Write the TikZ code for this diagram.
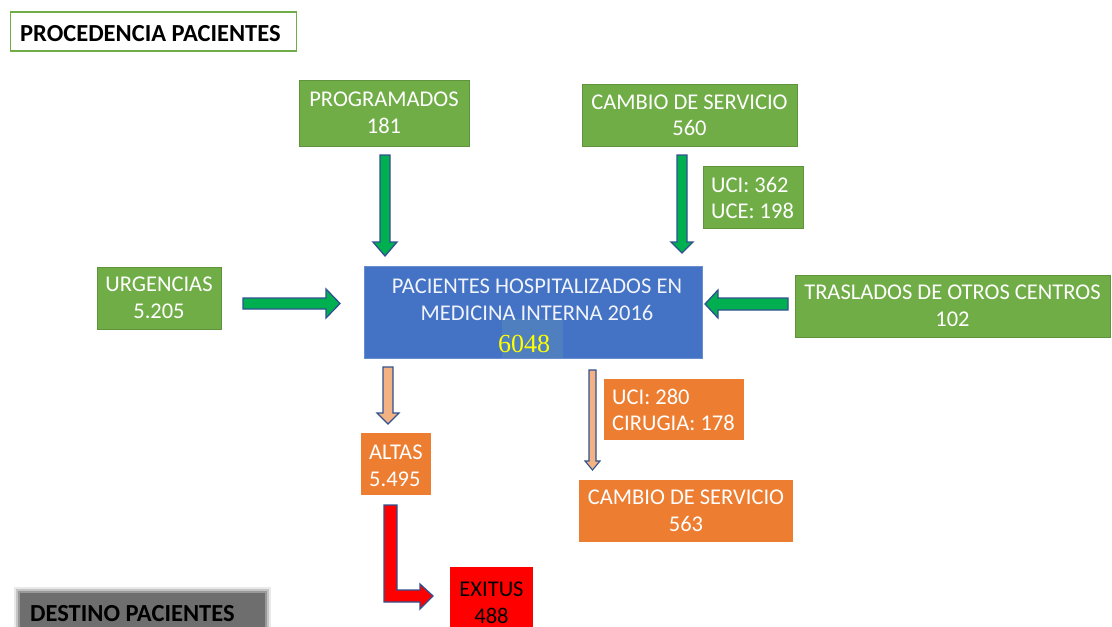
\documentclass[tikz,border=0pt]{standalone}
\usepackage{fontspec}
\setmainfont{Carlito}
\newfontfamily\numfont{Liberation Serif}
\definecolor{gfill}{HTML}{70AD47}
\definecolor{ofill}{HTML}{ED7D31}
\definecolor{bfill}{HTML}{4472C4}
\definecolor{binner}{HTML}{4F7FBE}
\definecolor{arrgreen}{HTML}{00B050}
\definecolor{arredge}{HTML}{2F528F}
\definecolor{arrorange}{HTML}{F4B183}
\definecolor{numyellow}{HTML}{FFFF00}
\definecolor{greybox}{HTML}{6E6E6E}
\tikzset{
  box/.style={inner sep=0pt, align=center, text=white, font=\fontsize{22.5}{26.5}\selectfont},
  gbox/.style={box, fill=gfill, draw=gfill!85!black, line width=0.4pt},
  obox/.style={box, fill=ofill},
  lbl/.style={inner sep=0pt, align=left, text=white, font=\fontsize{22.5}{26.5}\selectfont},
  garrow/.style={fill=arrgreen, draw=arredge, line width=1.3pt, line join=miter},
  oarrow/.style={fill=arrorange, draw=arredge, line width=1.1pt, line join=miter},
  rarrow/.style={fill=red, draw=arredge, line width=1.3pt, line join=miter},
}
\begin{document}
\begin{tikzpicture}[x=1pt,y=-1pt]
\useasboundingbox (0,0) rectangle (1112,627);
% title
\node[draw=gfill, line width=1.5pt, minimum width=286pt, minimum height=39pt, inner sep=0pt] (title) at (153.5,31.5) {};
\node[anchor=west, inner sep=0pt, font=\fontsize{24.5}{28}\selectfont\bfseries] (titletext) at (20,34) {PROCEDENCIA PACIENTES};
% source boxes
\node[gbox, minimum width=170pt, minimum height=66pt] (prog) at (384,113) {PROGRAMADOS\\181};
\node[gbox, minimum width=215pt, minimum height=62pt] (camb1) at (689.5,115.5) {CAMBIO DE SERVICIO\\560};
\node[gbox, minimum width=100pt, minimum height=62pt] (uce) at (753,197) {};
\node[lbl, anchor=west] (ucetext) at (711,198) {UCI: 362\\UCE: 198};
\node[gbox, minimum width=124pt, minimum height=62pt] (urg) at (159,298) {URGENCIAS\\5.205};
\node[gbox, minimum width=315pt, minimum height=62pt] (trasl) at (952.5,306) {TRASLADOS DE OTROS CENTROS\\102};
% central box
\node[box, fill=bfill, draw=bfill!80!white, line width=0.6pt, minimum width=338pt, minimum height=92pt] (central) at (533.5,312.5) {};
\node[fill=binner, minimum width=61pt, minimum height=39pt, inner sep=0pt] (inner) at (532.5,338.5) {};
\node[lbl, align=center, text=white!92!bfill] (centraltext) at (537,300) {PACIENTES HOSPITALIZADOS EN\\MEDICINA INTERNA 2016};
\node[inner sep=0pt, text=numyellow, font=\numfont\fontsize{26}{28}\selectfont] (num) at (524,344) {6048};
% destination boxes
\node[obox, minimum width=70pt, minimum height=62pt] (altas) at (396,464) {};
\node[lbl, anchor=west] (altastext) at (369,466) {ALTAS\\5.495};
\node[obox, minimum width=140pt, minimum height=61pt] (uci2) at (674,409.5) {};
\node[lbl, anchor=west] (uci2text) at (612,410) {UCI: 280\\CIRUGIA: 178};
\node[obox, minimum width=214pt, minimum height=62pt] (camb2) at (686,511) {CAMBIO DE SERVICIO\\563};
\node[box, fill=red, minimum width=83pt, minimum height=62pt] (exitus) at (491.5,598) {};
\node[box, text=black] (exitustext) at (491.5,603) {EXITUS\\488};
% destino (blurred grey label)
\fill[greybox, opacity=0.15] (14,587) rectangle (271,640);
\fill[greybox, opacity=0.3] (16,589) rectangle (269,640);
\fill[greybox, opacity=0.5] (18,591) rectangle (267,640);
\fill[greybox] (20,593) rectangle (265,640);
\node[anchor=west, inner sep=0pt, text=black, font=\fontsize{24.5}{28}\selectfont\bfseries] (destino) at (30,614) {DESTINO PACIENTES};
% block arrows
\draw[garrow] (380,155) -- (390,155) -- (390,242) -- (397,242) -- (385,256) -- (373,242) -- (380,242) -- cycle;
\draw[garrow] (677,155) -- (687,155) -- (687,242) -- (693,242) -- (682,253) -- (671,242) -- (677,242) -- cycle;
\draw[garrow] (243,298) -- (326,298) -- (326,289) -- (340,303.5) -- (326,318) -- (326,309) -- (243,309) -- cycle;
\draw[garrow] (788,298) -- (718,298) -- (718,290) -- (705,304) -- (718,318) -- (718,310) -- (788,310) -- cycle;
\draw[oarrow] (383,367) -- (393,367) -- (393,413) -- (399,413) -- (388,424) -- (377,413) -- (383,413) -- cycle;
\draw[oarrow] (589,370) -- (596,370) -- (596,461) -- (600,461) -- (592.5,470) -- (585,461) -- (589,461) -- cycle;
\draw[rarrow] (384,505) -- (397,505) -- (397,590) -- (420,590) -- (420,584) -- (433,596) -- (420,609) -- (420,602) -- (384,602) -- cycle;
\end{tikzpicture}
\end{document}
